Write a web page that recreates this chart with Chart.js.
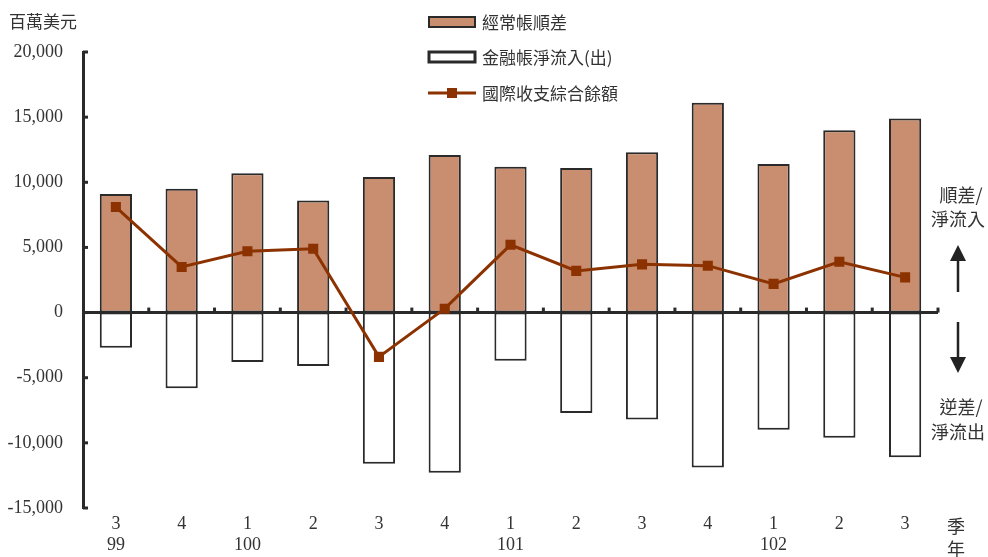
<!DOCTYPE html>
<html>
<head>
<meta charset="utf-8">
<script src="https://cdn.jsdelivr.net/npm/chart.js@4"></script>
<style>
  html, body { margin: 0; padding: 0; background: #fff; }
  #wrap { width: 988px; height: 557px; position: relative; }
</style>
</head>
<body>
<div id="wrap"><canvas id="c"></canvas></div>
<script>
// ---- data ----
const quarters = ['3', '4', '1', '2', '3', '4', '1', '2', '3', '4', '1', '2', '3'];
const years = ['99', '', '100', '', '', '', '101', '', '', '', '102', '', ''];
const currentAccount = [9100, 9500, 10700, 8600, 10400, 12100, 11200, 11100, 12300, 16100, 11400, 14000, 14900];
const financialAccount = [-2700, -5800, -3800, -4100, -11600, -12300, -3700, -7700, -8200, -11900, -9000, -9600, -11100];
const overallBalance = [8100, 3500, 4700, 4900, -3400, 300, 5200, 3200, 3700, 3600, 2200, 3900, 2700];
const seriesNames = ['經常帳順差', '金融帳淨流入(出)', '國際收支綜合餘額'];
const yMin = -15000, yMax = 20000, yStep = 5000;
const unitLabel = '百萬美元';

const labels = quarters.map((q, i) => [q, years[i]]);

const BAR_FILL = '#c98d6f';
const BORDER = '#2a2a2a';
const LINE = '#8c3200';
const TEXT = '#333';
const NUM_FONT = '"Liberation Serif", "DejaVu Serif", serif';
const CJK_FONT = '"Noto Sans CJK TC", "Noto Sans CJK SC", sans-serif';

const decor = {
  id: 'decor',
  afterDatasetDraw(chart, args) {
    if (args.meta.type !== 'bar') return;
    const { ctx, chartArea } = chart;
    const y = chart.scales.y;
    const y0 = y.getPixelForValue(0);
    ctx.save();
    ctx.strokeStyle = BORDER;
    ctx.lineWidth = 3;
    ctx.beginPath();
    ctx.moveTo(chartArea.left, y0);
    ctx.lineTo(chartArea.right, y0);
    ctx.stroke();
    ctx.restore();
  },
  afterDraw(chart) {
    const { ctx, chartArea } = chart;
    const x = chart.scales.x, y = chart.scales.y;
    const y0 = y.getPixelForValue(0);
    ctx.save();
    ctx.strokeStyle = BORDER;
    ctx.lineWidth = 3;
    // inner ticks on y axis
    for (let v = yMin; v <= yMax; v += yStep) {
      const py = y.getPixelForValue(v);
      ctx.beginPath();
      ctx.moveTo(chartArea.left, py);
      ctx.lineTo(chartArea.left + 5, py);
      ctx.stroke();
    }
    // category boundary ticks on zero line
    for (let i = 0; i < quarters.length; i++) {
      const a = x.getPixelForValue(i);
      const b = i < quarters.length - 1 ? x.getPixelForValue(i + 1) : null;
      const bx = b !== null ? (a + b) / 2 : chartArea.right;
      ctx.beginPath();
      ctx.moveTo(bx, y0);
      ctx.lineTo(bx, y0 - 5);
      ctx.stroke();
    }
    ctx.restore();

    // unit label
    ctx.save();
    ctx.fillStyle = TEXT;
    ctx.font = '17px ' + CJK_FONT;
    ctx.textBaseline = 'middle';
    ctx.textAlign = 'left';
    ctx.fillText(unitLabel, 9, 22);

    // legend
    const lx = 429, lw = 46;
    const rows = [22, 57, 93];
    ctx.lineWidth = 2;
    ctx.fillStyle = BAR_FILL; ctx.strokeStyle = BORDER;
    ctx.fillRect(lx, rows[0] - 5, lw, 10);
    ctx.strokeRect(lx, rows[0] - 5, lw, 10);
    ctx.lineWidth = 3;
    ctx.fillStyle = '#fff';
    ctx.fillRect(lx, rows[1] - 5, lw, 10);
    ctx.strokeRect(lx, rows[1] - 5, lw, 10);
    ctx.strokeStyle = LINE; ctx.lineWidth = 3;
    ctx.beginPath(); ctx.moveTo(lx - 1, rows[2]); ctx.lineTo(lx + lw + 1, rows[2]); ctx.stroke();
    ctx.fillStyle = LINE;
    ctx.fillRect(lx + lw / 2 - 5, rows[2] - 5, 10, 10);
    ctx.fillStyle = TEXT;
    ctx.font = '17px ' + CJK_FONT;
    seriesNames.forEach((n, i) => ctx.fillText(n, 482, rows[i] + 1));

    // right side annotations
    ctx.textAlign = 'center';
    ctx.font = '18px ' + CJK_FONT;
    ctx.fillText('順差/', 961, 195);
    ctx.fillText('淨流入', 958, 219);
    ctx.fillText('逆差/', 961, 407);
    ctx.fillText('淨流出', 958, 432);
    ctx.fillText('季', 956, 526);
    ctx.fillText('年', 956, 549);
    // arrows
    ctx.strokeStyle = '#222'; ctx.fillStyle = '#222'; ctx.lineWidth = 2.5;
    ctx.beginPath(); ctx.moveTo(958, 258); ctx.lineTo(958, 292); ctx.stroke();
    ctx.beginPath(); ctx.moveTo(958, 245); ctx.lineTo(950, 261); ctx.lineTo(966, 261); ctx.closePath(); ctx.fill();
    ctx.beginPath(); ctx.moveTo(958, 322); ctx.lineTo(958, 359); ctx.stroke();
    ctx.beginPath(); ctx.moveTo(958, 373); ctx.lineTo(950, 357); ctx.lineTo(966, 357); ctx.closePath(); ctx.fill();
    ctx.restore();
  }
};

new Chart(document.getElementById('c'), {
  type: 'bar',
  data: {
    labels: labels,
    datasets: [
      {
        type: 'line', label: seriesNames[2], data: overallBalance, order: 0,
        borderColor: LINE, backgroundColor: LINE, borderWidth: 3,
        pointStyle: 'rect', pointRadius: 5, pointHoverRadius: 5, tension: 0
      },
      {
        label: seriesNames[0], data: currentAccount, order: 2,
        backgroundColor: BAR_FILL, borderColor: BORDER, borderWidth: 2, borderSkipped: false,
        grouped: false, categoryPercentage: 1, barPercentage: 0.49
      },
      {
        label: seriesNames[1], data: financialAccount, order: 1,
        backgroundColor: '#ffffff', borderColor: BORDER, borderWidth: 2, borderSkipped: false,
        grouped: false, categoryPercentage: 1, barPercentage: 0.49
      }
    ]
  },
  options: {
    responsive: true,
    maintainAspectRatio: false,
    animation: false,
    layout: { padding: { left: 0, right: 50, top: 52, bottom: 0 } },
    plugins: { legend: { display: false }, tooltip: { enabled: false } },
    scales: {
      x: {
        grid: { display: false, drawTicks: false },
        border: { display: false },
        ticks: { color: TEXT, font: { family: NUM_FONT, size: 18 }, padding: 5, maxRotation: 0, autoSkip: false },
        afterFit(s) { s.height = 49; }
      },
      y: {
        min: yMin, max: yMax,
        grid: { display: false, drawTicks: false },
        border: { display: true, color: BORDER, width: 3 },
        ticks: {
          stepSize: yStep, color: TEXT, padding: 20,
          font: { family: NUM_FONT, size: 18 },
          callback: v => v.toLocaleString('en-US')
        },
        afterFit(s) { s.width = 83; }
      }
    }
  },
  plugins: [decor]
});
</script>
</body>
</html>
